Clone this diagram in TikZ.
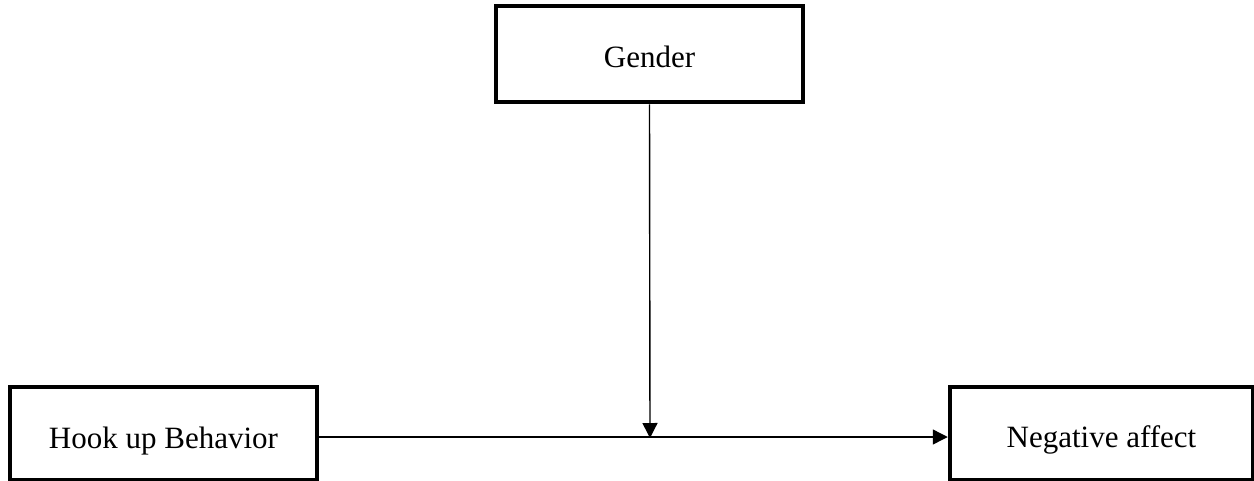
\documentclass[tikz,border=0pt]{standalone}
\usepackage{fontspec}
\setmainfont{Liberation Serif}
\usetikzlibrary{arrows.meta}
\begin{document}
\begin{tikzpicture}[x=1pt,y=-1pt,
  varbox/.style={draw=black, line width=4.5pt, rectangle, inner sep=0pt,
    font=\fontsize{31}{37}\selectfont, text depth=0pt},
  conn/.style={line width=1.4pt, -{Triangle[length=15pt,width=15pt]}}]
\useasboundingbox (0,0) rectangle (1254,480);
\node[varbox, minimum width=307pt, minimum height=96pt, text height=26pt] (gender) at (649.5,54) {Gender};
\node[varbox, minimum width=307pt, minimum height=93pt, text height=29pt] (hook) at (163.5,433.5) {Hook up Behavior};
\node[varbox, minimum width=303pt, minimum height=93pt, text height=27pt] (neg) at (1101.5,433.5) {Negative affect};
\coordinate (j) at (650,437);
\draw[conn] (hook.east |- j) -- (neg.west |- j);
\draw[conn] (gender.south) -- ([yshift=-1pt]j);
\end{tikzpicture}
\end{document}
